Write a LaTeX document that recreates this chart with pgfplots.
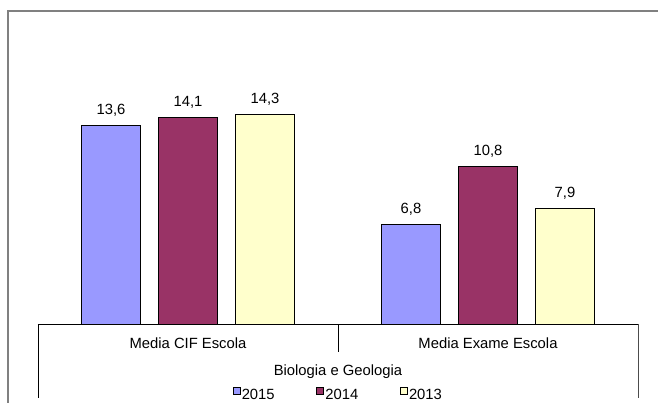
\documentclass[border=0pt]{standalone}
\usepackage{fontspec}
\setmainfont{Liberation Sans}
\usepackage{pgfplots}
\pgfplotsset{compat=1.18}

\definecolor{c2015}{HTML}{9999FF}
\definecolor{c2014}{HTML}{993366}
\definecolor{c2013}{HTML}{FFFFCC}

\begin{document}
\begin{tikzpicture}[font=\fontsize{14.8bp}{17bp}\selectfont]
% page = 658 x 403 bp, axis box origin at (0,0)
\path[use as bounding box] (-38bp,-79bp) rectangle (620bp,324bp);
% outer chart frame (cut at the right and bottom)
\draw[gray, line width=1.3bp] (-30bp,-80bp) -- (-30bp,313bp) -- (621bp,313bp);

\begin{axis}[
    at={(0,0)}, anchor=south west,
    scale only axis,
    clip=false,
    width=600bp, height=292.4bp,
    xmin=-0.5, xmax=1.5,
    ymin=0, ymax=20,
    axis y line=none,
    axis x line*=bottom,
    x axis line style={-, black, line width=0.8bp},
    xtick={0,1},
    xticklabels={Media CIF Escola, Media Exame Escola},
    major tick length=0pt,
    xticklabel style={anchor=base, yshift=-24bp},
    xlabel={Biologia e Geologia},
    xlabel style={at={(axis description cs:0.5,-0.1761)}, anchor=base},
    ybar=18bp,
    bar width=59bp,
    every axis plot/.append style={draw=black, line width=0.9bp},
    nodes near coords,
    every node near coord/.append style={anchor=base, yshift=11bp, text=black},
    /pgf/number format/.cd, use comma, fixed, fixed zerofill, precision=1, assume math mode=true,
    /pgfplots/.cd,
    legend columns=3,
    legend image code/.code={\draw[#1, line width=0.7bp] (0bp,1bp) rectangle (7bp,8bp);},
    legend style={at={(axis description cs:0.5,-0.2445)}, anchor=base, draw=none,
        fill=none, inner sep=0pt,
        nodes={inner sep=1.5bp},
        /tikz/every even column/.append style={column sep=40bp}},
]
\addplot[fill=c2015] coordinates {(0,13.6) (1,6.8)};
\addplot[fill=c2014] coordinates {(0,14.1) (1,10.8)};
\addplot[fill=c2013] coordinates {(0,14.3) (1,7.9)};
\legend{2015,2014,2013}

% category separators of the x axis
\draw[black, line width=0.8bp] (axis cs:-0.5,0) -- ++(0pt,-74bp);
\draw[black, line width=0.8bp] (axis cs:0.5,0) -- ++(0pt,-28bp);
\draw[black!70, line width=0.8bp] (axis cs:1.5,0) -- ++(0pt,-74bp);
\end{axis}
\end{tikzpicture}
\end{document}
